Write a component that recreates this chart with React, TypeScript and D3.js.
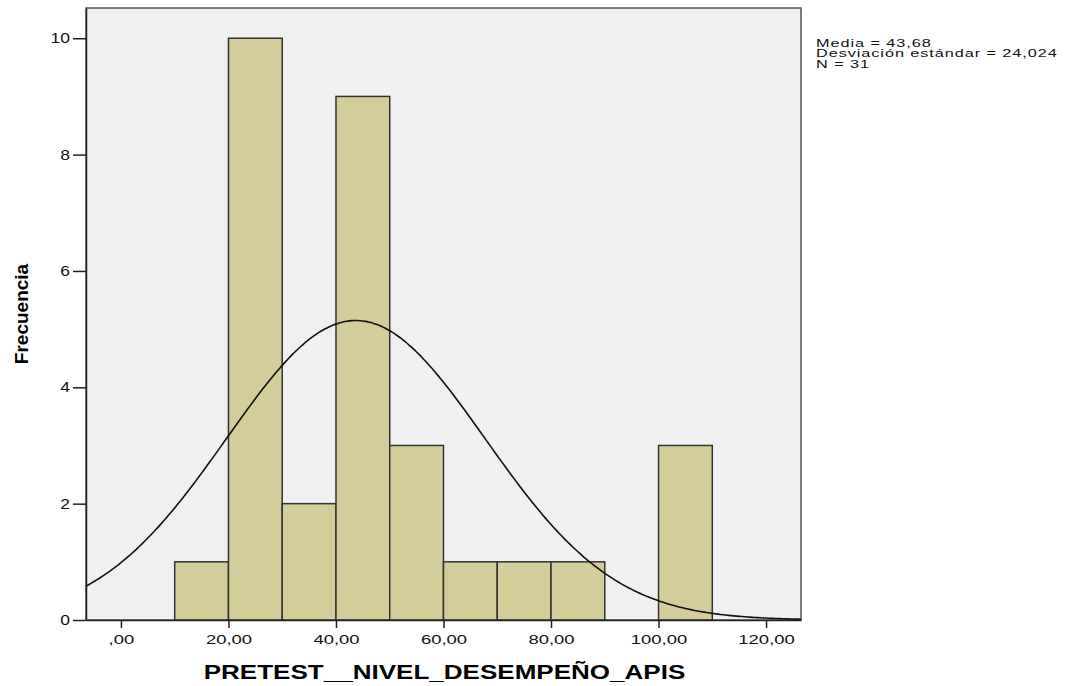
import React, { useEffect, useRef } from "react";
import * as d3 from "d3";

// histogram bins (lower edge, upper edge, count)
const binStarts = [10, 20, 30, 40, 50, 60, 70, 80, 90, 100];
const binEnds = [20, 30, 40, 50, 60, 70, 80, 90, 100, 110];
const counts = [1, 10, 2, 9, 3, 1, 1, 1, 0, 3];
const xTicks = [0, 20, 40, 60, 80, 100, 120];
const yTicks = [0, 2, 4, 6, 8, 10];
const statsLines = ["Media = 43,68", "Desviación estándar = 24,024", "N = 31"];
const mean = 43.68;
const sd = 24.024;
const n = 31;
const binWidth = 10;

export default function App() {
  const ref = useRef<SVGSVGElement>(null);

  useEffect(() => {
    const svg = d3.select(ref.current);
    svg.selectAll("*").remove();
    const font = "Liberation Sans, Arial, sans-serif";

    const left = 86, right = 801, top = 8, bottom = 620;
    const x = d3.scaleLinear().domain([-6.5, 126.5]).range([left, right]);
    const y = d3.scaleLinear().domain([0, 10.52]).range([bottom, top]);

    svg.append("rect")
      .attr("x", left).attr("y", top)
      .attr("width", right - left).attr("height", bottom - top)
      .attr("fill", "#f0f0f0")
      .attr("stroke", "#555").attr("stroke-width", 1.5);

    const bins = counts.map((c, i) => ({ x0: binStarts[i], x1: binEnds[i], c })).filter(d => d.c > 0);

    svg.selectAll(".bar")
      .data(bins)
      .join("rect")
      .attr("x", d => x(d.x0))
      .attr("y", d => y(d.c))
      .attr("width", d => x(d.x1) - x(d.x0))
      .attr("height", d => y(0) - y(d.c))
      .attr("fill", "#d3ce99")
      .attr("stroke", "#333")
      .attr("stroke-width", 1.5);

    // normal curve
    const pdf = (v: number) => n * binWidth / (sd * Math.sqrt(2 * Math.PI)) * Math.exp(-0.5 * ((v - mean) / sd) ** 2);
    const pts = d3.range(-6.5, 126.6, 0.5);
    const line = d3.line<number>().x(d => x(d)).y(d => y(pdf(d))).curve(d3.curveBasis);
    svg.append("path")
      .attr("d", line(pts))
      .attr("fill", "none")
      .attr("stroke", "#111")
      .attr("stroke-width", 1.6);

    // axes (labels stretched horizontally like the SPSS export)
    const xAxis = d3.axisBottom(x).tickValues(xTicks).tickSize(8).tickSizeOuter(0)
      .tickFormat(d => (d === 0 ? ",00" : d3.format(".2f")(d as number).replace(".", ",")));
    const gx = svg.append("g").attr("transform", `translate(0,${bottom})`).call(xAxis);
    gx.select(".domain").attr("stroke", "#222").attr("stroke-width", 1.5);
    gx.selectAll(".tick line").attr("stroke", "#222").attr("stroke-width", 1.5);
    gx.selectAll(".tick text").attr("y", 24).attr("dy", 0)
      .attr("transform", "scale(1.42,1)")
      .style("font-family", font).style("font-size", "13px").attr("fill", "#111");

    const ySx = 1.25;
    const yAxis = d3.axisLeft(y).tickValues(yTicks).tickSize(13).tickSizeOuter(0);
    const gy = svg.append("g").attr("transform", `translate(${left},0)`).call(yAxis);
    gy.select(".domain").attr("stroke", "#222").attr("stroke-width", 1.5);
    gy.selectAll(".tick line").attr("stroke", "#222").attr("stroke-width", 1.5);
    gy.selectAll(".tick text").attr("x", -16 / ySx).attr("transform", `scale(${ySx},1)`)
      .style("font-family", font).style("font-size", "14px").attr("fill", "#111");

    svg.append("text")
      .attr("transform", `translate(${(left + right) / 2 + 1},679) scale(1.24,1)`)
      .attr("text-anchor", "middle")
      .style("font-family", font)
      .style("font-size", "21px").style("font-weight", "bold")
      .text("PRETEST__NIVEL_DESEMPEÑO_APIS");

    svg.append("text")
      .attr("transform", `translate(28,${(top + bottom) / 2}) rotate(-90)`)
      .attr("text-anchor", "middle")
      .style("font-family", "Liberation Sans Narrow, Liberation Sans, Arial, sans-serif")
      .style("font-size", "19px").style("font-weight", "bold")
      .text("Frecuencia");

    svg.selectAll(".stat")
      .data(statsLines)
      .join("text")
      .attr("transform", (d, i) => `translate(816,${46.7 + i * 10.5}) scale(1.55,1)`)
      .style("font-family", font)
      .style("font-size", "10.5px")
      .style("letter-spacing", "0.6px")
      .attr("fill", "#111")
      .text(d => d);
  }, []);

  return (
    <svg ref={ref} width={1069} height={686}
      style={{ position: "absolute", left: 0, top: 0, background: "#fff" }} />
  );
}
